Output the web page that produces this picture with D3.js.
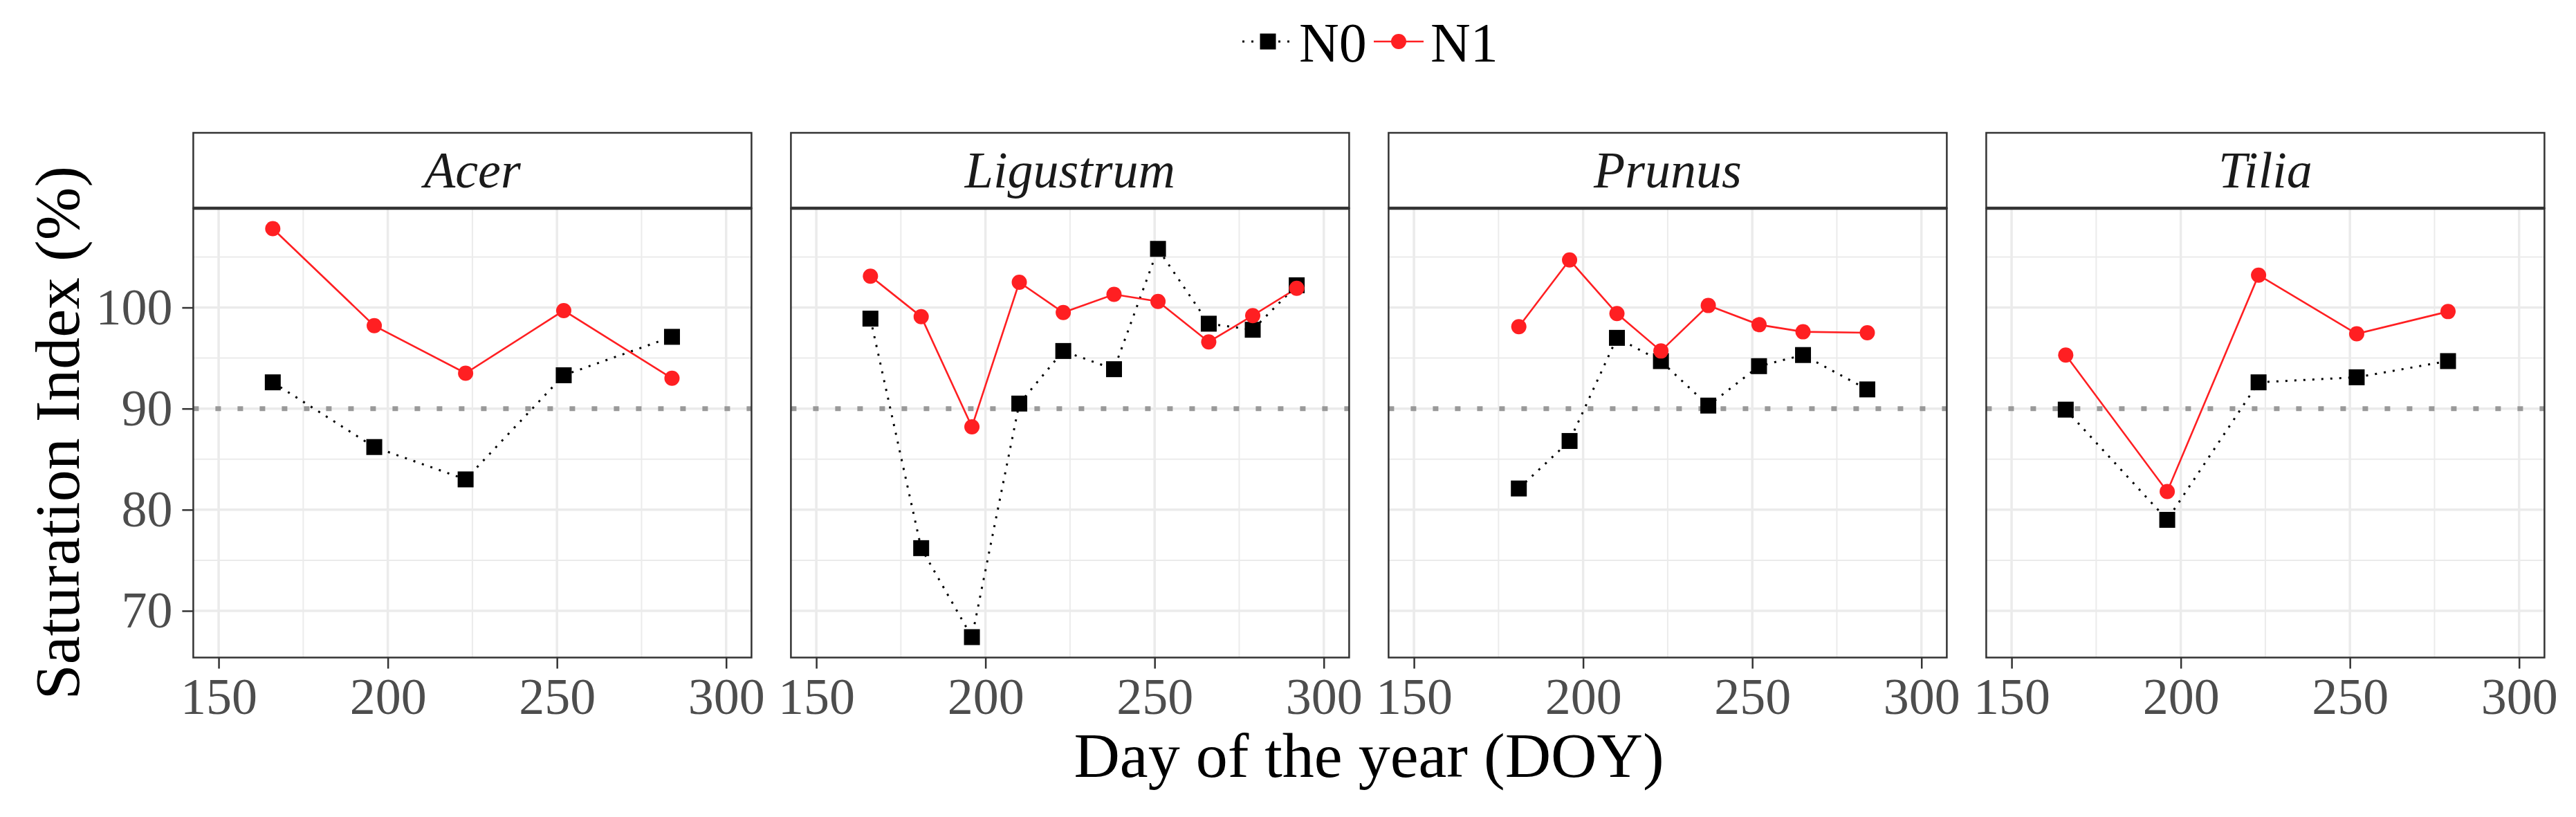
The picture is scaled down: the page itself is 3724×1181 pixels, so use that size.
<!DOCTYPE html>
<html>
<head>
<meta charset="utf-8">
<script src="https://cdn.jsdelivr.net/npm/d3@7"></script>
<style>
  body { margin: 0; background: #fff; }
  svg { display: block; font-family: "Liberation Serif", "DejaVu Serif", serif; }
</style>
</head>
<body>
<svg id="chart"></svg>
<script>
// Chart data
const species = ["Acer", "Ligustrum", "Prunus", "Tilia"];
const treatments = ["N0", "N1"];

const doyAcer = [166, 196, 223, 252, 284];
const n0Acer = [92.6, 86.2, 83.0, 93.3, 97.1];
const n1Acer = [107.8, 98.2, 93.5, 99.7, 93.0];

const doyLigustrum = [166, 181, 196, 210, 223, 238, 251, 266, 279, 292];
const n0Ligustrum = [98.9, 76.2, 67.4, 90.5, 95.7, 93.9, 105.8, 98.4, 97.8, 102.2];
const n1Ligustrum = [103.1, 99.1, 88.2, 102.5, 99.5, 101.3, 100.6, 96.6, 99.2, 101.9];

const doyPrunus = [181, 196, 210, 223, 237, 252, 265, 284];
const n0Prunus = [82.1, 86.8, 97.0, 94.7, 90.3, 94.2, 95.3, 91.9];
const n1Prunus = [98.1, 104.7, 99.4, 95.7, 100.2, 98.3, 97.6, 97.5];

const doyTilia = [166, 196, 223, 252, 279];
const n0Tilia = [89.9, 79.0, 92.6, 93.1, 94.7];
const n1Tilia = [95.3, 81.8, 103.2, 97.4, 99.6];

const xTicks = [150, 200, 250, 300];
const yTicks = [70, 80, 90, 100];
const threshold = 90;

// Build per-panel series from the arrays above
const panels = [
  { name: species[0], doy: doyAcer, N0: n0Acer, N1: n1Acer },
  { name: species[1], doy: doyLigustrum, N0: n0Ligustrum, N1: n1Ligustrum },
  { name: species[2], doy: doyPrunus, N0: n0Prunus, N1: n1Prunus },
  { name: species[3], doy: doyTilia, N0: n0Tilia, N1: n1Tilia }
];

// Layout
const width = 3724;
const height = 1181;
const panelLeft = 279.4;
const panelW = 807;
const panelGap = 57;
const stripTop = 192;
const panelTop = 301;
const panelBottom = 950.5;
const panelH = panelBottom - panelTop;

const red = "#ff1f22";
const gridColor = "#ebebeb";
const borderColor = "#333333";

const svg = d3.select("#chart")
  .attr("width", width)
  .attr("height", height);

// Scales (shared across facets, ggplot-style 5% expansion on y)
const x = d3.scaleLinear()
  .domain([142.5, 307.5])
  .range([0, panelW]);

const allY = panels.flatMap(p => p.N0.concat(p.N1));
const [yMin, yMax] = d3.extent(allY);
const yPad = (yMax - yMin) * 0.05;
const y = d3.scaleLinear()
  .domain([yMin - yPad, yMax + yPad])
  .range([panelH, 0]);

const xMinor = d3.range(125, 326, 25).filter(v => !xTicks.includes(v) && v > x.domain()[0] && v < x.domain()[1]);
const yMinor = d3.range(65, 111, 5).filter(v => !yTicks.includes(v) && v > y.domain()[0] && v < y.domain()[1]);

const line = d3.line()
  .x(d => x(d.doy))
  .y(d => y(d.value));

panels.forEach((p, i) => {
  const g = svg.append("g")
    .attr("transform", `translate(${panelLeft + i * (panelW + panelGap)},${panelTop})`);

  // Panel background
  g.append("rect")
    .attr("width", panelW)
    .attr("height", panelH)
    .attr("fill", "#fff");

  // Minor grid
  g.selectAll(".minor-x")
    .data(xMinor)
    .enter()
    .append("line")
    .attr("x1", d => x(d)).attr("x2", d => x(d))
    .attr("y1", 0).attr("y2", panelH)
    .attr("stroke", gridColor).attr("stroke-width", 2);

  g.selectAll(".minor-y")
    .data(yMinor)
    .enter()
    .append("line")
    .attr("x1", 0).attr("x2", panelW)
    .attr("y1", d => y(d)).attr("y2", d => y(d))
    .attr("stroke", gridColor).attr("stroke-width", 2);

  // Major grid
  g.selectAll(".major-x")
    .data(xTicks)
    .enter()
    .append("line")
    .attr("x1", d => x(d)).attr("x2", d => x(d))
    .attr("y1", 0).attr("y2", panelH)
    .attr("stroke", gridColor).attr("stroke-width", 3.5);

  g.selectAll(".major-y")
    .data(yTicks)
    .enter()
    .append("line")
    .attr("x1", 0).attr("x2", panelW)
    .attr("y1", d => y(d)).attr("y2", d => y(d))
    .attr("stroke", gridColor).attr("stroke-width", 3.5);

  // 90 % reference line
  g.append("line")
    .attr("x1", 0).attr("x2", panelW)
    .attr("y1", y(threshold)).attr("y2", y(threshold))
    .attr("stroke", "#999999")
    .attr("stroke-width", 7)
    .attr("stroke-dasharray", "8,24");

  const series = treatments.map(t => ({
    key: t,
    values: p.doy.map((d, j) => ({ doy: d, value: p[t][j] }))
  }));

  // Lines
  g.append("path")
    .datum(series[0].values)
    .attr("d", line)
    .attr("fill", "none")
    .attr("stroke", "#000")
    .attr("stroke-width", 3)
    .attr("stroke-dasharray", "3,10");

  g.append("path")
    .datum(series[1].values)
    .attr("d", line)
    .attr("fill", "none")
    .attr("stroke", red)
    .attr("stroke-width", 2.6);

  // Points
  const sq = 23;
  g.selectAll(".pt-n0")
    .data(series[0].values)
    .enter()
    .append("rect")
    .attr("x", d => x(d.doy) - sq / 2)
    .attr("y", d => y(d.value) - sq / 2)
    .attr("width", sq)
    .attr("height", sq)
    .attr("fill", "#000");

  g.selectAll(".pt-n1")
    .data(series[1].values)
    .enter()
    .append("circle")
    .attr("cx", d => x(d.doy))
    .attr("cy", d => y(d.value))
    .attr("r", 11)
    .attr("fill", red);

  // Panel border
  g.append("rect")
    .attr("width", panelW)
    .attr("height", panelH)
    .attr("fill", "none")
    .attr("stroke", borderColor)
    .attr("stroke-width", 2.5);

  // Strip
  g.append("rect")
    .attr("y", stripTop - panelTop)
    .attr("width", panelW)
    .attr("height", panelTop - stripTop)
    .attr("fill", "#fff")
    .attr("stroke", borderColor)
    .attr("stroke-width", 2.5);

  g.append("line")
    .attr("x1", 0).attr("x2", panelW)
    .attr("y1", 0).attr("y2", 0)
    .attr("stroke", borderColor)
    .attr("stroke-width", 4.5);

  g.append("text")
    .attr("x", panelW / 2)
    .attr("y", 271 - panelTop)
    .attr("text-anchor", "middle")
    .attr("font-size", 74)
    .attr("font-style", "italic")
    .attr("fill", "#1a1a1a")
    .text(p.name);

  // X axis
  const xAxis = g.append("g")
    .attr("transform", `translate(0,${panelH})`)
    .call(d3.axisBottom(x).tickValues(xTicks).tickSize(16).tickPadding(13));
  xAxis.select(".domain").remove();
  xAxis.selectAll("line").attr("stroke", borderColor).attr("stroke-width", 2.5);
  xAxis.selectAll("text")
    .attr("font-size", 74)
    .attr("font-family", "Liberation Serif")
    .attr("fill", "#4d4d4d");

  // Y axis on first panel only
  if (i === 0) {
    const yAxis = g.append("g")
      .call(d3.axisLeft(y).tickValues(yTicks).tickSize(16).tickPadding(14));
    yAxis.select(".domain").remove();
    yAxis.selectAll("line").attr("stroke", borderColor).attr("stroke-width", 2.5);
    yAxis.selectAll("text")
      .attr("font-size", 74)
      .attr("font-family", "Liberation Serif")
      .attr("fill", "#4d4d4d");
  }
});

// Axis titles
svg.append("text")
  .attr("x", 1979)
  .attr("y", 1123)
  .attr("text-anchor", "middle")
  .attr("font-size", 92)
  .attr("fill", "#000")
  .text("Day of the year (DOY)");

svg.append("text")
  .attr("transform", `translate(114,${panelTop + panelH / 2}) rotate(-90)`)
  .attr("text-anchor", "middle")
  .attr("font-size", 92)
  .attr("fill", "#000")
  .text("Saturation Index (%)");

// Legend
const legend = svg.append("g").attr("transform", "translate(0,60)");

legend.append("line")
  .attr("x1", 1796).attr("x2", 1866)
  .attr("stroke", "#000")
  .attr("stroke-width", 3)
  .attr("stroke-dasharray", "3,10");
legend.append("rect")
  .attr("x", 1833 - 11.5).attr("y", -11.5)
  .attr("width", 23).attr("height", 23)
  .attr("fill", "#000");
legend.append("text")
  .attr("x", 1878).attr("y", 29)
  .attr("font-size", 80)
  .text(treatments[0]);

legend.append("line")
  .attr("x1", 1986).attr("x2", 2058)
  .attr("stroke", red)
  .attr("stroke-width", 2.6);
legend.append("circle")
  .attr("cx", 2022).attr("cy", 0)
  .attr("r", 11)
  .attr("fill", red);
legend.append("text")
  .attr("x", 2068).attr("y", 29)
  .attr("font-size", 80)
  .text(treatments[1]);
</script>
</body>
</html>
